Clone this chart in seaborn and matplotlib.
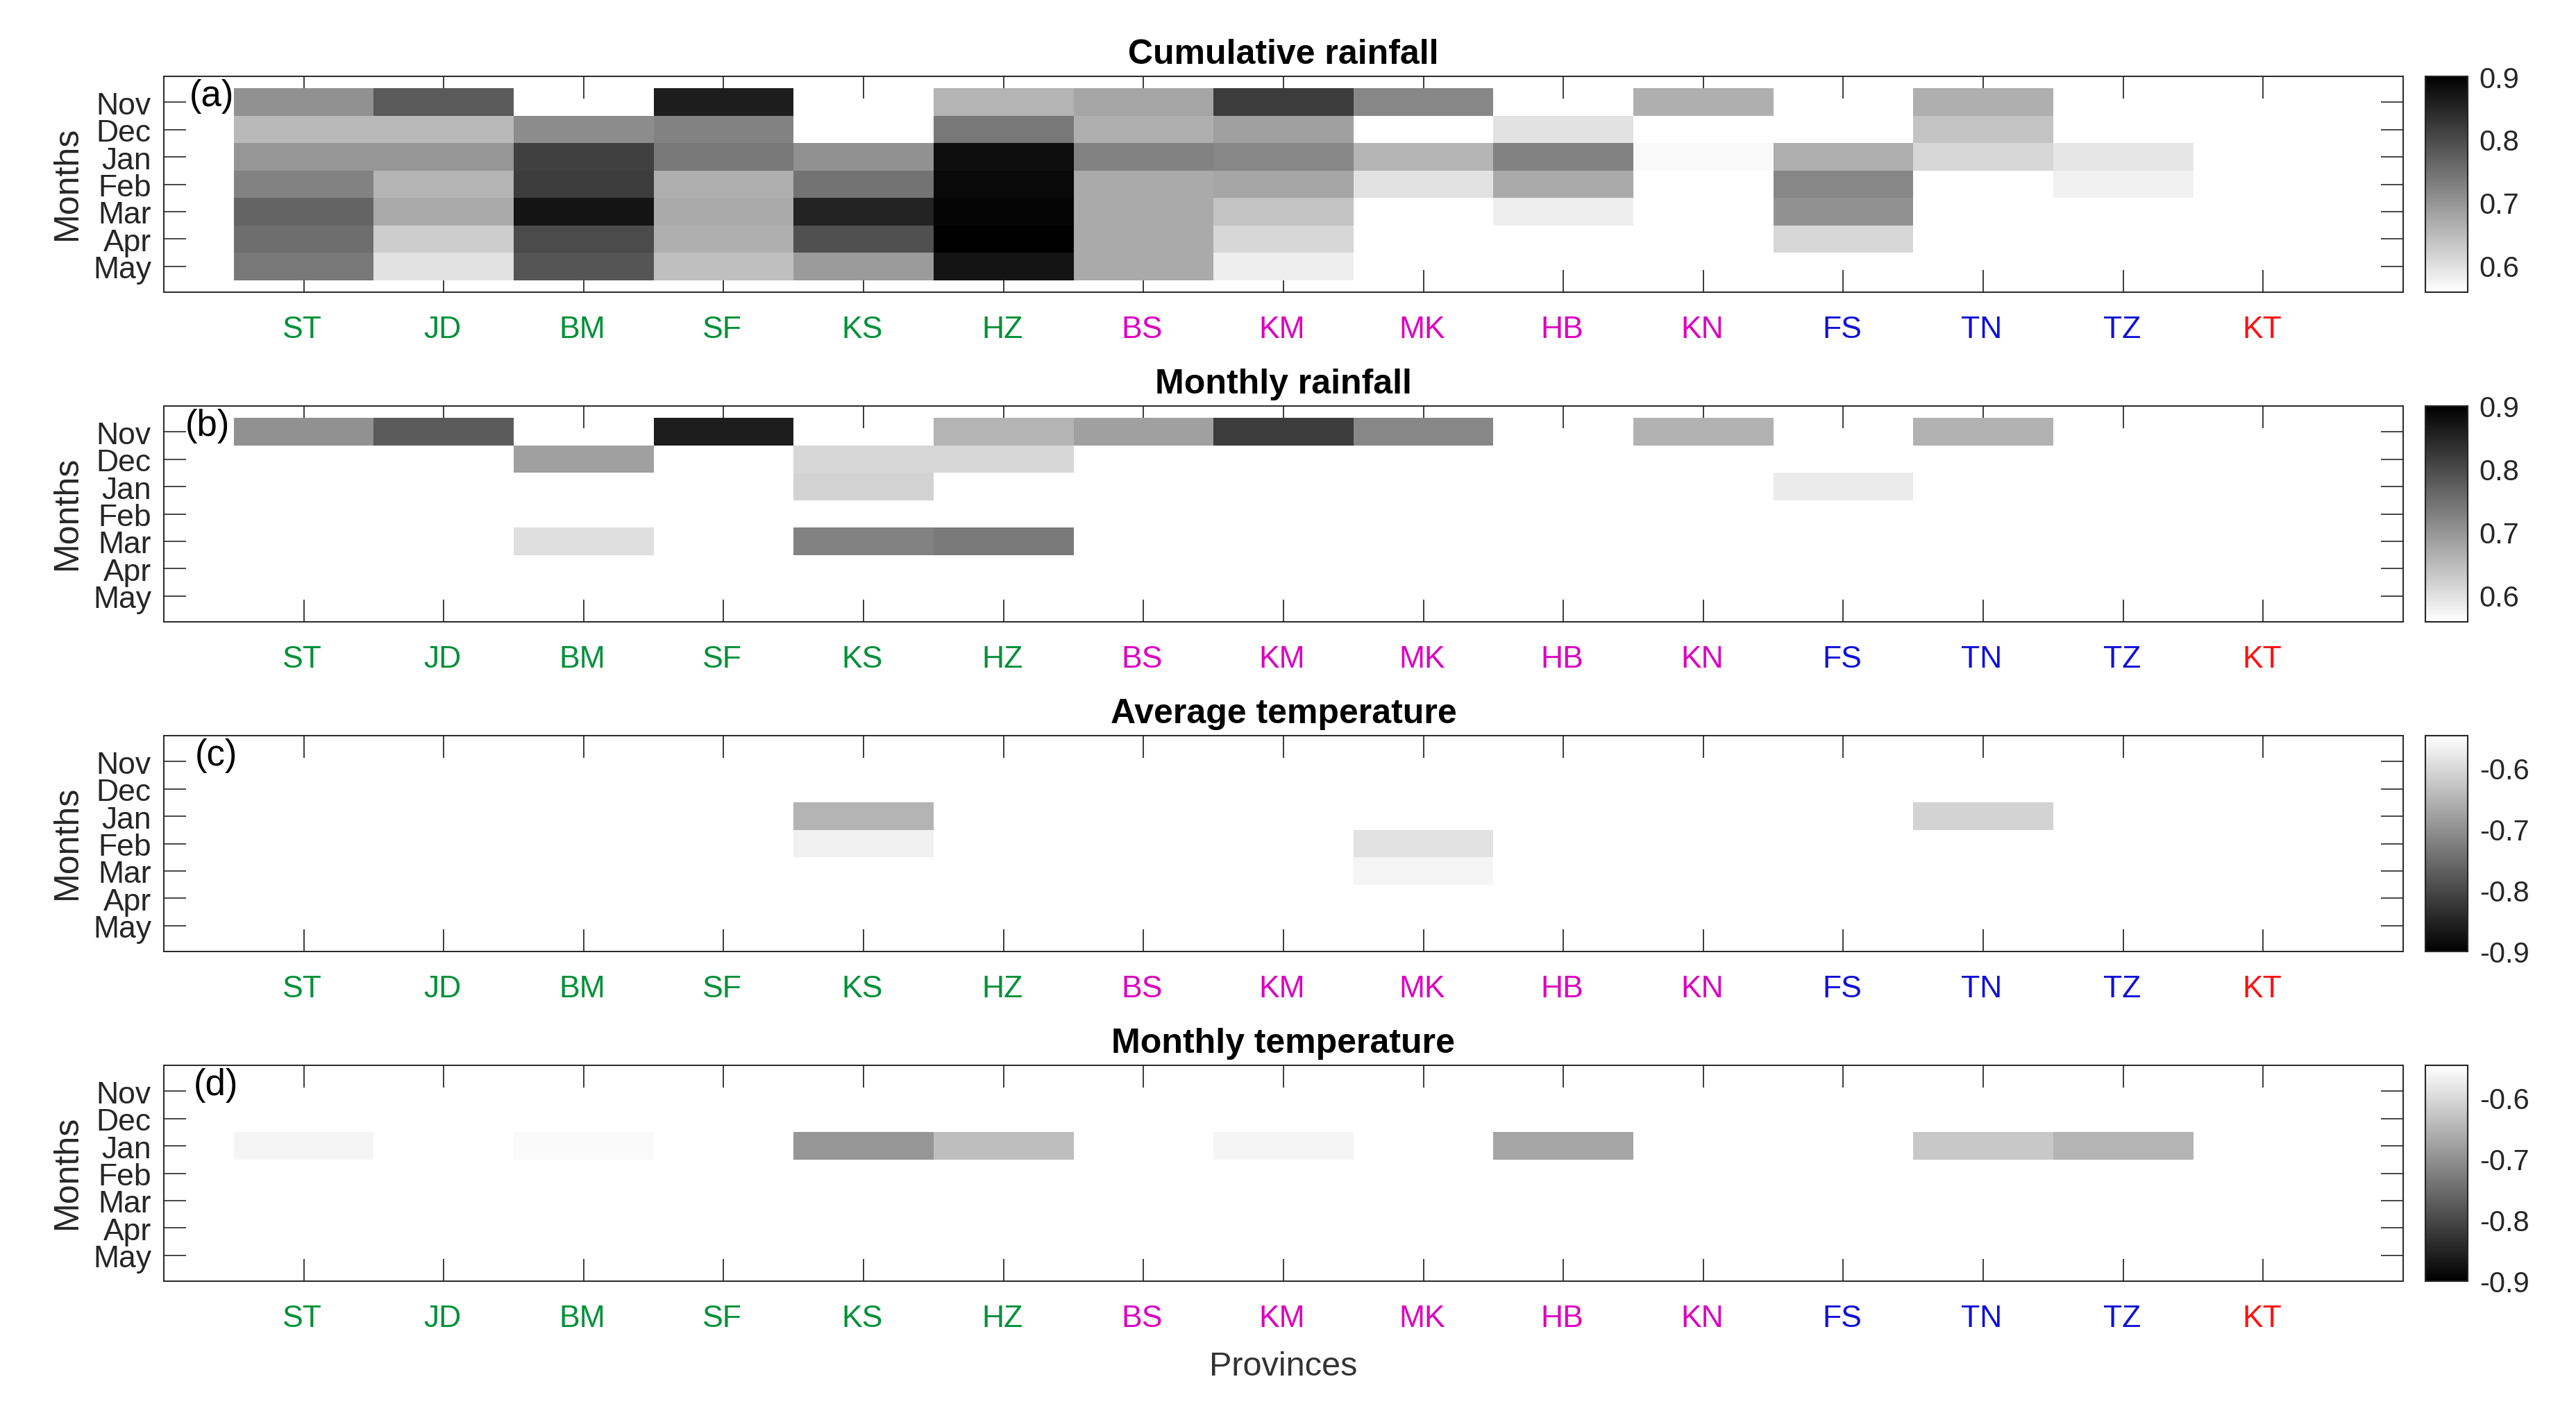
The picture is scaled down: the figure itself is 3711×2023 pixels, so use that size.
import numpy as np
import pandas as pd
import seaborn as sns
import matplotlib.pyplot as plt
from matplotlib.transforms import ScaledTranslation

provinces = ["ST", "JD", "BM", "SF", "KS", "HZ", "BS", "KM", "MK", "HB", "KN", "FS", "TN", "TZ", "KT"]
months = ["Nov", "Dec", "Jan", "Feb", "Mar", "Apr", "May"]
label_colors = ["#009038"] * 6 + ["#dc00c0"] * 5 + ["#1010d8"] * 3 + ["#ff1010"]
n = np.nan

cumulative_rain = [
    [.705, .779, n, .860, n, .658, .678, .819, .718, n, .665, n, .665, n, n],
    [.651, .651, .712, .725, n, .739, .665, .685, n, .597, n, n, .638, n, n],
    [.698, .698, .813, .739, .705, .880, .725, .718, .658, .725, .566, .665, .611, .591, n],
    [.725, .658, .819, .665, .745, .887, .671, .678, .597, .671, n, .718, n, .577, n],
    [.765, .671, .873, .671, .853, .893, .671, .638, n, .580, n, .705, n, n, n],
    [.752, .624, .799, .665, .792, .900, .671, .611, n, n, n, .611, n, n, n],
    [.739, .597, .786, .644, .692, .873, .671, .580, n, n, n, n, n, n, n],
]
monthly_rain = [
    [.705, .779, n, .860, n, .658, .685, .819, .718, n, .661, n, .661, n, n],
    [n, n, .685, n, .611, .611, n, n, n, n, n, n, n, n, n],
    [n, n, n, n, .617, n, n, n, n, n, n, .584, n, n, n],
    [n] * 15,
    [n, n, .601, n, .725, .736, n, n, n, n, n, n, n, n, n],
    [n] * 15,
    [n] * 15,
]
average_temp = [
    [n] * 15,
    [n] * 15,
    [n, n, n, n, -.651, n, n, n, n, n, n, n, -.609, n, n],
    [n, n, n, n, -.568, n, n, n, -.589, n, n, n, n, n, n],
    [n, n, n, n, n, n, n, n, -.561, n, n, n, n, n, n],
    [n] * 15,
    [n] * 15,
]
monthly_temp = [
    [n] * 15,
    [n] * 15,
    [-.561, n, -.554, n, -.692, -.637, n, -.561, n, -.672, n, n, -.623, -.651, n],
    [n] * 15,
    [n] * 15,
    [n] * 15,
    [n] * 15,
]

W, H = 3712, 2024
sns.set_theme(style="white")
plt.rcParams["font.family"] = ["Liberation Sans", "DejaVu Sans"]

fig = plt.figure(figsize=(W / 100, H / 100), dpi=100)


def px_axes(x0, y0, x1, y1):
    return fig.add_axes([x0 / W, 1 - y1 / H, (x1 - x0) / W, (y1 - y0) / H])


panels = [
    ("Cumulative rainfall", "(a)", cumulative_rain, "gray_r", .557, .9, [.6, .7, .8, .9], 111, 422, .0214),
    ("Monthly rainfall", "(b)", monthly_rain, "gray_r", .557, .9, [.6, .7, .8, .9], 586, 897, .0195),
    ("Average temperature", "(c)", average_temp, "gray", -.9, -.547, [-.9, -.8, -.7, -.6], 1061, 1372, .0235),
    ("Monthly temperature", "(d)", monthly_temp, "gray", -.9, -.547, [-.9, -.8, -.7, -.6], 1536, 1847, .0233),
]

# small nudges for tick labels, in inches
shift_down = ScaledTranslation(0, -0.05, fig.dpi_scale_trans)
shift_left = ScaledTranslation(-0.02, 0, fig.dpi_scale_trans)

for title, tag, values, cmap, vmin, vmax, cticks, top, bottom, tx in panels:
    ax = px_axes(236, top, 3462, bottom)
    cax = px_axes(3494, top, 3555, bottom)
    df = pd.DataFrame(values, index=months, columns=provinces)
    sns.heatmap(df, ax=ax, cbar_ax=cax, cmap=cmap, vmin=vmin, vmax=vmax,
                xticklabels=True, yticklabels=True)
    ax.set_xlim(-0.5, 15.5)
    ax.set_ylim(7.437, -0.437)

    for s in ax.spines.values():
        s.set_visible(True)
        s.set_linewidth(1.4)
        s.set_color("#262626")
    ax.tick_params(axis="x", direction="in", top=True, bottom=True, length=23, width=1.2,
                   color="#1a1a1a", pad=23.8, labelsize=32, labelrotation=0)
    ax.tick_params(axis="y", direction="in", left=True, right=True, length=23, width=1.2,
                   color="#262626", pad=13, labelsize=32, labelrotation=0, labelcolor="#262626")
    for lab, c in zip(ax.get_xticklabels(), label_colors):
        lab.set_color(c)
        lab.set_transform(lab.get_transform() + shift_left)
    for lab in ax.get_yticklabels():
        lab.set_transform(lab.get_transform() + shift_down)

    ax.set_title(title, fontsize=36, fontweight="bold", color="black", pad=14)
    ax.set_xlabel("")
    ax.set_ylabel("Months", fontsize=36, color="#262626")
    ax.yaxis.set_label_coords(-0.036, 0.51)
    ax.text(tx, .91, tag, transform=ax.transAxes, fontsize=38, color="black", ha="center", va="center")

    cbar = ax.collections[0].colorbar
    cbar.set_ticks(cticks)
    cbar.set_ticklabels([f"{t:g}" for t in cticks])
    cax.tick_params(length=0, pad=12, labelsize=30, labelcolor="#262626", right=True)
    cbar.outline.set_visible(True)
    cbar.outline.set_linewidth(1.5)
    cbar.outline.set_edgecolor("#262626")

fig.text(1849 / W, 1 - 1982 / H, "Provinces", fontsize=35, color="#333333", ha="center", va="baseline")

fig.savefig("out.png", dpi=100)
